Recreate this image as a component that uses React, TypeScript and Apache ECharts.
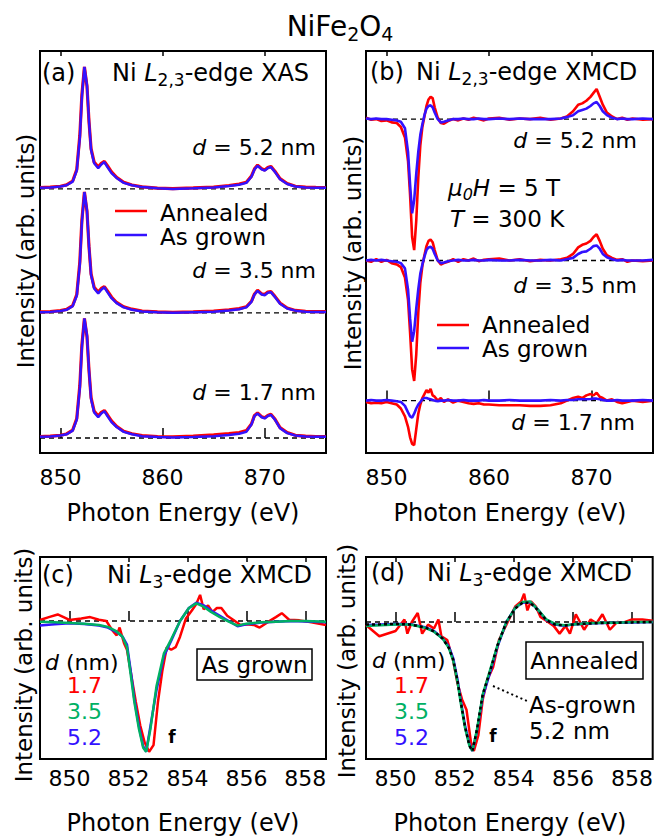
import React, { useEffect, useRef } from "react";
import * as echarts from "echarts";

// ---------- Panel (a): Ni L2,3-edge XAS ----------
const E_XAS = [848, 849, 850, 850.6, 851.2, 851.6, 851.9, 852.1, 852.35, 852.6, 852.8, 853.0, 853.3, 853.7, 854.0, 854.3, 854.6, 855.0, 855.5, 856.2, 857, 858, 859.5, 861, 863, 865, 866.5, 867.5, 868.2, 868.7, 869.0, 869.3, 869.7, 870.0, 870.3, 870.6, 871.0, 871.5, 872.2, 873, 874, 875, 876];
const XAS_ANN_52 = [0.012, 0.015, 0.022, 0.033, 0.065, 0.16, 0.44, 0.77, 1.0, 0.84, 0.55, 0.33, 0.22, 0.18, 0.21, 0.225, 0.19, 0.14, 0.095, 0.055, 0.032, 0.017, 0.007, 0.003, 0.008, 0.015, 0.028, 0.04, 0.055, 0.105, 0.165, 0.195, 0.165, 0.155, 0.175, 0.185, 0.145, 0.085, 0.045, 0.022, 0.015, 0.013, 0.012];
const XAS_GROWN_52 = [0.01, 0.012, 0.02, 0.03, 0.06, 0.15, 0.42, 0.75, 1.0, 0.85, 0.55, 0.32, 0.21, 0.17, 0.2, 0.22, 0.18, 0.13, 0.09, 0.05, 0.03, 0.015, 0.005, 0.0, 0.005, 0.012, 0.025, 0.035, 0.05, 0.1, 0.16, 0.19, 0.16, 0.15, 0.17, 0.18, 0.14, 0.08, 0.04, 0.02, 0.012, 0.01, 0.01];
const XAS_ANN_35 = [0.008, 0.01, 0.018, 0.028, 0.06, 0.15, 0.42, 0.76, 0.99, 0.83, 0.54, 0.32, 0.21, 0.17, 0.2, 0.215, 0.18, 0.13, 0.085, 0.05, 0.03, 0.015, 0.008, 0.004, 0.008, 0.014, 0.025, 0.035, 0.05, 0.095, 0.155, 0.185, 0.155, 0.15, 0.17, 0.175, 0.135, 0.08, 0.04, 0.02, 0.012, 0.01, 0.01];
const XAS_GROWN_35 = [0.005, 0.008, 0.015, 0.025, 0.055, 0.14, 0.4, 0.74, 0.99, 0.84, 0.54, 0.31, 0.2, 0.16, 0.19, 0.21, 0.17, 0.12, 0.08, 0.045, 0.025, 0.012, 0.005, 0.0, 0.005, 0.01, 0.02, 0.03, 0.045, 0.09, 0.15, 0.18, 0.15, 0.145, 0.165, 0.17, 0.13, 0.075, 0.035, 0.018, 0.01, 0.008, 0.008];
const XAS_ANN_17 = [0.012, 0.015, 0.022, 0.033, 0.065, 0.16, 0.43, 0.76, 0.98, 0.83, 0.55, 0.33, 0.22, 0.18, 0.21, 0.225, 0.19, 0.14, 0.095, 0.055, 0.035, 0.02, 0.012, 0.01, 0.015, 0.025, 0.035, 0.045, 0.06, 0.115, 0.185, 0.205, 0.175, 0.165, 0.185, 0.195, 0.155, 0.085, 0.045, 0.022, 0.015, 0.012, 0.012];
const XAS_GROWN_17 = [0.01, 0.012, 0.02, 0.03, 0.06, 0.15, 0.41, 0.74, 0.98, 0.84, 0.55, 0.32, 0.21, 0.17, 0.2, 0.22, 0.18, 0.13, 0.09, 0.05, 0.03, 0.015, 0.008, 0.004, 0.008, 0.015, 0.025, 0.035, 0.05, 0.11, 0.18, 0.2, 0.17, 0.16, 0.18, 0.19, 0.15, 0.08, 0.04, 0.02, 0.012, 0.01, 0.01];
const OFFSETS_A = [2.04, 1.025, 0]; // d = 5.2, 3.5, 1.7 nm

// ---------- Panel (b): Ni L2,3-edge XMCD ----------
const E_XMCD = [848, 848.5, 849, 849.5, 850, 850.5, 851, 851.4, 851.8, 852.1, 852.3, 852.5, 852.7, 852.9, 853.1, 853.3, 853.5, 853.7, 853.9, 854.1, 854.3, 854.5, 854.7, 855.0, 855.3, 855.6, 856.0, 856.5, 857, 857.5, 858, 858.5, 859, 859.5, 860, 861, 862, 863, 864, 865, 866, 867, 867.6, 868.2, 868.7, 869.1, 869.5, 869.9, 870.2, 870.5, 870.8, 871.1, 871.5, 872, 872.5, 873, 873.5, 874, 875, 876];
const XMCD_ANN_52 = [0.01, -0.005, 0.0, -0.015, -0.01, -0.025, -0.03, -0.06, -0.14, -0.32, -0.58, -0.9, -1.0, -0.78, -0.45, -0.2, -0.06, 0.02, 0.1, 0.15, 0.17, 0.16, 0.09, 0.01, -0.03, -0.035, -0.015, 0.0, -0.01, 0.005, -0.005, 0.01, 0.0, -0.01, 0.005, 0.01, -0.005, 0.005, 0.0, 0.01, -0.005, 0.005, 0.02, 0.06, 0.11, 0.12, 0.14, 0.17, 0.2, 0.23, 0.17, 0.11, 0.05, 0.02, 0.0, 0.01, -0.005, 0.005, -0.005, 0.0];
const XMCD_GROWN_52 = [0.005, 0.0, 0.005, 0.0, 0.0, -0.005, -0.01, -0.02, -0.07, -0.25, -0.5, -0.72, -0.62, -0.42, -0.25, -0.12, -0.04, 0.03, 0.08, 0.1, 0.105, 0.09, 0.05, 0.0, -0.025, -0.02, -0.01, 0.0, 0.0, 0.005, 0.0, 0.0, 0.005, 0.0, 0.0, 0.005, 0.0, 0.005, 0.0, 0.0, 0.0, 0.005, 0.015, 0.03, 0.06, 0.07, 0.08, 0.1, 0.12, 0.13, 0.1, 0.06, 0.03, 0.01, 0.0, 0.005, 0.0, 0.0, 0.005, 0.0];
const XMCD_ANN_35 = [0.0, -0.01, 0.01, -0.01, 0.005, -0.02, -0.03, -0.05, -0.13, -0.3, -0.55, -0.83, -0.92, -0.72, -0.4, -0.17, -0.04, 0.04, 0.11, 0.15, 0.16, 0.14, 0.08, 0.0, -0.03, -0.02, -0.01, 0.01, -0.01, 0.01, 0.0, 0.015, -0.005, 0.005, 0.01, 0.015, 0.0, 0.01, -0.005, 0.005, 0.0, 0.01, 0.02, 0.05, 0.1, 0.12, 0.13, 0.15, 0.18, 0.2, 0.15, 0.09, 0.04, 0.02, 0.005, 0.01, -0.01, 0.0, -0.005, 0.0];
const XMCD_GROWN_35 = [0.0, 0.005, 0.0, 0.005, 0.0, -0.005, -0.01, -0.02, -0.06, -0.22, -0.44, -0.62, -0.54, -0.37, -0.22, -0.1, -0.03, 0.03, 0.08, 0.1, 0.105, 0.09, 0.05, 0.0, -0.02, -0.015, -0.005, 0.0, 0.005, 0.0, 0.0, 0.005, 0.0, 0.0, 0.005, 0.0, 0.0, 0.005, 0.0, 0.0, 0.005, 0.0, 0.01, 0.02, 0.05, 0.065, 0.07, 0.09, 0.11, 0.115, 0.09, 0.05, 0.025, 0.01, 0.0, 0.005, 0.0, 0.0, 0.0, 0.005];
const XMCD_ANN_17 = [-0.01, -0.02, -0.015, -0.02, -0.01, -0.02, -0.03, -0.06, -0.12, -0.2, -0.28, -0.33, -0.34, -0.22, -0.1, -0.03, 0.02, 0.05, 0.08, 0.06, 0.09, 0.04, 0.03, 0.0, 0.02, -0.01, 0.01, -0.015, 0.0, -0.01, -0.02, -0.025, -0.02, -0.03, -0.03, -0.035, -0.035, -0.035, -0.04, -0.04, -0.035, -0.02, 0.0, 0.02, 0.03, 0.02, 0.04, 0.05, 0.04, 0.06, 0.03, 0.02, 0.0, 0.01, -0.01, -0.02, -0.01, 0.0, -0.01, 0.0];
const XMCD_GROWN_17 = [0.0, 0.005, 0.0, 0.0, 0.005, 0.0, -0.005, -0.01, -0.04, -0.09, -0.12, -0.13, -0.1, -0.06, -0.03, -0.01, 0.01, 0.02, 0.02, 0.015, 0.01, 0.005, 0.0, -0.005, 0.0, 0.0, 0.005, 0.0, 0.0, 0.005, 0.0, 0.0, 0.0, 0.005, 0.0, 0.0, 0.005, 0.0, 0.0, 0.0, 0.005, 0.0, 0.005, 0.005, 0.01, 0.01, 0.01, 0.012, 0.015, 0.015, 0.01, 0.005, 0.0, 0.0, 0.005, 0.0, 0.0, 0.0, 0.005, 0.0];
const OFFSETS_B = [2.15, 1.07, 0];

// ---------- Panels (c), (d): Ni L3-edge XMCD ----------
const E_L3 = [849.0, 849.5, 850.0, 850.5, 851.0, 851.3, 851.6, 851.8, 851.95, 852.1, 852.2, 852.35, 852.5, 852.6, 852.75, 852.95, 853.2, 853.45, 853.75, 854.05, 854.3, 854.55, 854.8, 855.1, 855.4, 855.7, 856.0, 856.5, 857.0, 857.5, 858.0, 858.7];
const C_GROWN_52 = [-0.035, -0.025, -0.018, -0.022, -0.035, -0.05, -0.085, -0.12, -0.18, -0.42, -0.6, -0.8, -0.96, -1.0, -0.8, -0.53, -0.27, -0.15, 0.0, 0.1, 0.14, 0.12, 0.08, 0.04, 0.0, -0.04, -0.025, -0.012, -0.005, 0.0, -0.003, -0.01];
const C_GROWN_35 = [-0.005, -0.01, -0.015, -0.02, -0.03, -0.045, -0.08, -0.12, -0.2, -0.45, -0.62, -0.82, -0.97, -1.0, -0.82, -0.5, -0.25, -0.14, 0.0, 0.1, 0.135, 0.11, 0.07, 0.03, -0.005, -0.035, -0.02, -0.01, -0.005, 0.0, 0.0, -0.005];
const E_C_RED = [849.0, 849.3, 849.6, 850.0, 850.4, 850.7, 851.0, 851.25, 851.45, 851.6, 851.7, 851.85, 851.95, 852.1, 852.25, 852.4, 852.55, 852.7, 852.85, 853.0, 853.15, 853.3, 853.45, 853.6, 853.75, 853.95, 854.15, 854.3, 854.43, 854.55, 854.7, 854.85, 855.0, 855.15, 855.35, 855.55, 855.8, 856.0, 856.25, 856.45, 856.75, 857.0, 857.2, 857.45, 857.8, 858.2, 858.7];
const C_GROWN_17 = [0.008, 0.03, 0.05, 0.008, 0.02, 0.03, 0.01, 0.0, -0.07, -0.11, -0.05, -0.17, -0.22, -0.42, -0.62, -0.8, -0.93, -1.0, -0.95, -0.62, -0.38, -0.2, -0.22, -0.2, -0.12, 0.02, 0.08, 0.13, 0.2, 0.09, 0.12, 0.07, 0.1, 0.1, 0.04, 0.01, -0.03, -0.025, -0.03, -0.05, -0.005, 0.03, 0.06, 0.01, 0.005, -0.01, -0.03];
const D_ANN_52 = [-0.023, -0.02, -0.015, -0.018, -0.04, -0.07, -0.13, -0.19, -0.28, -0.45, -0.6, -0.8, -0.95, -1.0, -0.85, -0.58, -0.39, -0.19, 0.0, 0.11, 0.15, 0.155, 0.1, 0.016, -0.02, -0.03, -0.02, -0.012, -0.008, -0.005, -0.003, 0.0];
const D_ANN_35 = [-0.03, -0.025, -0.02, -0.02, -0.045, -0.075, -0.13, -0.2, -0.3, -0.47, -0.62, -0.82, -0.96, -1.0, -0.84, -0.56, -0.37, -0.18, 0.0, 0.11, 0.155, 0.16, 0.1, 0.02, -0.015, -0.025, -0.02, -0.01, -0.005, -0.005, 0.0, 0.0];
const D_REF_GROWN_52 = [-0.02, -0.018, -0.015, -0.02, -0.042, -0.072, -0.13, -0.2, -0.29, -0.46, -0.61, -0.81, -0.96, -1.0, -0.84, -0.56, -0.38, -0.18, 0.0, 0.105, 0.15, 0.15, 0.095, 0.015, -0.02, -0.028, -0.02, -0.012, -0.008, -0.005, -0.003, 0.0];
const E_D_RED = [849.0, 849.45, 850.0, 850.3, 850.4, 850.55, 850.75, 850.9, 851.1, 851.3, 851.45, 851.55, 851.75, 851.95, 852.1, 852.25, 852.4, 852.55, 852.65, 852.8, 852.95, 853.1, 853.3, 853.5, 853.75, 854.05, 854.25, 854.35, 854.46, 854.58, 854.75, 854.9, 855.1, 855.35, 855.55, 855.75, 855.9, 856.1, 856.38, 856.6, 856.8, 857.0, 857.25, 857.5, 857.7, 858.0, 858.35, 858.7];
const D_ANN_17 = [-0.023, -0.11, -0.07, 0.02, -0.09, 0.0, 0.07, -0.09, -0.02, -0.05, 0.02, -0.11, -0.14, -0.3, -0.48, -0.6, -0.68, -0.93, -1.0, -0.88, -0.6, -0.45, -0.35, -0.14, -0.02, 0.12, 0.16, 0.22, 0.09, 0.16, 0.12, 0.04, 0.01, -0.03, -0.09, -0.03, -0.09, 0.06, -0.06, 0.02, -0.01, 0.06, -0.06, 0.0, -0.005, 0.02, 0.02, 0.01];

// ---------- Axes ----------
const X_AB = [848, 876];
const X_CD = [849, 858.7];
const TICKS_AB = [850, 860, 870];
const TICKS_CD = [850, 852, 854, 856, 858];
const Y_A = [-0.123, 3.17];
const Y_B = [-0.4, 2.67];
const Y_C = [-1.056, 0.49];
const Y_D = [-1.062, 0.504];

const FONT = '"DejaVu Sans", "Liberation Sans", sans-serif';
const RED = "#ff0000";
const BLUE = "#3311ff";
const GREEN = "#00b064";

const zip = (xs: number[], ys: number[], off = 0) => xs.map((x, i) => [x, ys[i] + off]);

function line(idx: number, data: number[][], color: string, width: number, name: string, dash?: any) {
  return {
    type: "line",
    name,
    xAxisIndex: idx * 2,
    yAxisIndex: idx,
    data,
    showSymbol: false,
    symbol: "none",
    silent: true,
    lineStyle: { color, width, type: dash || "solid" },
  };
}

function baseline(idx: number, xr: number[], y: number) {
  return {
    type: "line",
    xAxisIndex: idx * 2,
    yAxisIndex: idx,
    data: [[xr[0], y], [xr[1], y]],
    showSymbol: false,
    symbol: "none",
    silent: true,
    lineStyle: { color: "#000", width: 1.3, type: [5, 4] },
  };
}

function rich(size: number, sub: number, subLH: number) {
  return {
    n: { fontSize: size, fontFamily: FONT, fill: "#000", lineHeight: size + 6 },
    i: { fontSize: size, fontFamily: FONT, fill: "#000", fontStyle: "italic", lineHeight: size + 6 },
    s: { fontSize: sub, fontFamily: FONT, fill: "#000", lineHeight: subLH, verticalAlign: "bottom" },
    si: { fontSize: sub, fontFamily: FONT, fill: "#000", fontStyle: "italic", lineHeight: subLH, verticalAlign: "bottom" },
  };
}

function txt(x: number, y: number, text: string, size: number, opts: any = {}) {
  const { align = "left", fill = "#000", weight = "normal", r, rotation = 0, lh } = opts;
  return {
    type: "text",
    x,
    y,
    rotation,
    silent: true,
    z: 100,
    style: {
      text,
      fontSize: size,
      fontFamily: FONT,
      fontWeight: weight,
      fill,
      align,
      verticalAlign: "middle",
      ...(lh ? { lineHeight: lh } : {}),
      ...(r ? { rich: r } : {}),
    },
  };
}

function seg(x1: number, y1: number, x2: number, y2: number, color: string, width: number, dash?: number[]) {
  return {
    type: "line",
    silent: true,
    z: 100,
    shape: { x1, y1, x2, y2 },
    style: { stroke: color, lineWidth: width, ...(dash ? { lineDash: dash } : {}) },
  };
}

function box(x: number, y: number, w: number, h: number) {
  return {
    type: "rect",
    silent: true,
    z: 99,
    shape: { x, y, width: w, height: h },
    style: { fill: "rgba(0,0,0,0)", stroke: "#000", lineWidth: 1.5 },
  };
}

function buildOption() {
  const grids = [
    { left: 40, top: 51, width: 286, height: 402 },
    { left: 366, top: 51, width: 287, height: 402 },
    { left: 40, top: 557, width: 286, height: 202 },
    { left: 366, top: 557, width: 287, height: 202 },
  ].map((g) => ({ ...g, show: true, borderColor: "#000", borderWidth: 2, backgroundColor: "rgba(0,0,0,0)" }));

  const xr = [X_AB, X_AB, X_CD, X_CD];
  const tk = [TICKS_AB, TICKS_AB, TICKS_CD, TICKS_CD];
  const margins = [13, 13, 8, 8];
  const xAxis: any[] = [];
  for (let g = 0; g < 4; g++) {
    xAxis.push({
      type: "value",
      gridIndex: g,
      position: "bottom",
      min: xr[g][0],
      max: xr[g][1],
      axisLine: { show: false },
      splitLine: { show: false },
      axisTick: { show: true, inside: true, length: 10, customValues: tk[g], lineStyle: { color: "#000", width: 1.5 } },
      axisLabel: { show: true, customValues: tk[g], margin: margins[g], fontSize: 22, fontFamily: FONT, color: "#000" },
    });
    xAxis.push({
      type: "value",
      gridIndex: g,
      position: "top",
      min: xr[g][0],
      max: xr[g][1],
      axisLine: { show: false },
      splitLine: { show: false },
      axisTick: { show: true, inside: true, length: 5, customValues: tk[g], lineStyle: { color: "#000", width: 1.5 } },
      axisLabel: { show: false },
    });
  }
  const yr = [Y_A, Y_B, Y_C, Y_D];
  const yAxis = yr.map((r, g) => ({ type: "value", gridIndex: g, min: r[0], max: r[1], show: false }));

  const series: any[] = [];
  // (a)
  const xasPairs = [
    [XAS_ANN_52, XAS_GROWN_52],
    [XAS_ANN_35, XAS_GROWN_35],
    [XAS_ANN_17, XAS_GROWN_17],
  ];
  OFFSETS_A.forEach((o) => series.push(baseline(0, X_AB, o)));
  xasPairs.forEach(([ann, grown], k) => {
    series.push(line(0, zip(E_XAS, ann, OFFSETS_A[k]), RED, 3.2, "Annealed"));
    series.push(line(0, zip(E_XAS, grown, OFFSETS_A[k]), BLUE, 2.5, "As grown"));
  });
  // (b)
  const xmcdPairs = [
    [XMCD_ANN_52, XMCD_GROWN_52],
    [XMCD_ANN_35, XMCD_GROWN_35],
    [XMCD_ANN_17, XMCD_GROWN_17],
  ];
  OFFSETS_B.forEach((o) => series.push(baseline(1, X_AB, o)));
  xmcdPairs.forEach(([ann, grown], k) => {
    series.push(line(1, zip(E_XMCD, ann, OFFSETS_B[k]), RED, 2.6, "Annealed"));
    series.push(line(1, zip(E_XMCD, grown, OFFSETS_B[k]), BLUE, 2.6, "As grown"));
  });
  // (c)
  series.push(baseline(2, X_CD, 0));
  series.push(line(2, zip(E_C_RED, C_GROWN_17), RED, 2.5, "1.7"));
  series.push(line(2, zip(E_L3, C_GROWN_52), BLUE, 2.5, "5.2"));
  series.push(line(2, zip(E_L3, C_GROWN_35), GREEN, 2.5, "3.5"));
  // (d)
  series.push(baseline(3, X_CD, 0));
  series.push(line(3, zip(E_D_RED, D_ANN_17), RED, 2.5, "1.7"));
  series.push(line(3, zip(E_L3, D_ANN_52), BLUE, 2.5, "5.2"));
  series.push(line(3, zip(E_L3, D_ANN_35), GREEN, 2.5, "3.5"));
  series.push(line(3, zip(E_L3, D_REF_GROWN_52), "#000", 2.5, "As-grown 5.2 nm", [3, 3]));

  const R24 = rich(24, 17, 10);
  const R23 = rich(23, 16, 10);
  const R22 = rich(22, 16, 10);
  const RT = rich(28, 19, 16);

  const graphic: any[] = [
    txt(340, 26, "{n|NiFe}{s|2}{n|O}{s|4}", 28, { align: "center", r: RT }),
    // (a)
    txt(42, 73, "(a)", 24),
    txt(112, 73, "{n|Ni }{i|L}{s|2,3}{n|-edge XAS}", 24, { r: R24 }),
    txt(316, 147, "{i|d}{n| = 5.2 nm}", 22, { align: "right", r: R22 }),
    txt(316, 270, "{i|d}{n| = 3.5 nm}", 22, { align: "right", r: R22 }),
    txt(316, 392, "{i|d}{n| = 1.7 nm}", 22, { align: "right", r: R22 }),
    seg(115, 211, 147, 211, RED, 2.5),
    seg(115, 235, 147, 235, BLUE, 2.5),
    txt(160, 213, "Annealed", 23, { lh: 22 }),
    txt(160, 237, "As grown", 23, { lh: 22 }),
    // (b)
    txt(370, 72, "(b)", 24),
    txt(416, 72, "{n|Ni }{i|L}{s|2,3}{n|-edge XMCD}", 24, { r: R24 }),
    txt(637, 140, "{i|d}{n| = 5.2 nm}", 22, { align: "right", r: R22 }),
    txt(637, 285, "{i|d}{n| = 3.5 nm}", 22, { align: "right", r: R22 }),
    txt(635, 422, "{i|d}{n| = 1.7 nm}", 22, { align: "right", r: R22 }),
    txt(448, 188, "{i|μ}{si|0}{i|H}{n| = 5 T}", 23, { r: R23 }),
    txt(450, 219, "{i|T}{n| = 300 K}", 23, { r: R23 }),
    seg(437, 325, 469, 325, RED, 2.5),
    seg(437, 348, 469, 348, BLUE, 2.5),
    txt(482, 325, "Annealed", 23, { lh: 21 }),
    txt(482, 349, "As grown", 23, { lh: 21 }),
    // (c)
    txt(42, 575, "(c)", 24),
    txt(107, 575, "{n|Ni }{i|L}{s|3}{n|-edge XMCD}", 24, { r: R24 }),
    box(197, 649, 115, 31),
    txt(254.5, 665, "As grown", 23, { align: "center", lh: 24 }),
    txt(45, 662, "{i|d}{n| (nm)}", 22, { r: R22 }),
    txt(67, 685, "1.7", 22, { fill: RED, lh: 22 }),
    txt(67, 711, "3.5", 22, { fill: GREEN, lh: 22 }),
    txt(67, 737, "5.2", 22, { fill: BLUE, lh: 22 }),
    txt(172, 737, "f", 17, { align: "center", weight: "bold" }),
    // (d)
    txt(371, 573, "(d)", 24),
    txt(427, 573, "{n|Ni }{i|L}{s|3}{n|-edge XMCD}", 24, { r: R24 }),
    box(526, 642, 117, 37),
    txt(584.5, 661, "Annealed", 23, { align: "center", lh: 24 }),
    txt(372, 660, "{i|d}{n| (nm)}", 22, { r: R22 }),
    txt(394, 685, "1.7", 22, { fill: RED, lh: 22 }),
    txt(394, 711, "3.5", 22, { fill: GREEN, lh: 22 }),
    txt(394, 737, "5.2", 22, { fill: BLUE, lh: 22 }),
    txt(493, 736, "f", 17, { align: "center", weight: "bold" }),
    seg(493, 686, 527, 701, "#000", 2, [2, 3]),
    txt(529, 705, "As-grown", 23, { lh: 24 }),
    txt(529, 731, "5.2 nm", 23, { lh: 24 }),
    // axis titles
    txt(183, 513, "Photon Energy (eV)", 24, { align: "center" }),
    txt(510, 513, "Photon Energy (eV)", 24, { align: "center" }),
    txt(183, 823, "Photon Energy (eV)", 24, { align: "center" }),
    txt(510, 823, "Photon Energy (eV)", 24, { align: "center" }),
    txt(26, 251, "Intensity (arb. units)", 23, { align: "center", rotation: Math.PI / 2 }),
    txt(353, 253, "Intensity (arb. units)", 23, { align: "center", rotation: Math.PI / 2 }),
    txt(24, 665, "Intensity (arb. units)", 23, { align: "center", rotation: Math.PI / 2 }),
    txt(347, 661, "Intensity (arb. units)", 23, { align: "center", rotation: Math.PI / 2 }),
  ];

  return {
    animation: false,
    backgroundColor: "#ffffff",
    grid: grids,
    xAxis,
    yAxis,
    series,
    graphic,
  };
}

export default function App() {
  const ref = useRef<HTMLDivElement>(null);
  useEffect(() => {
    if (!ref.current) return;
    const chart = echarts.init(ref.current, null, { renderer: "svg" });
    chart.setOption(buildOption() as any);
    return () => chart.dispose();
  }, []);
  return <div ref={ref} style={{ position: "absolute", left: 0, top: 0, width: 656, height: 837 }} />;
}
